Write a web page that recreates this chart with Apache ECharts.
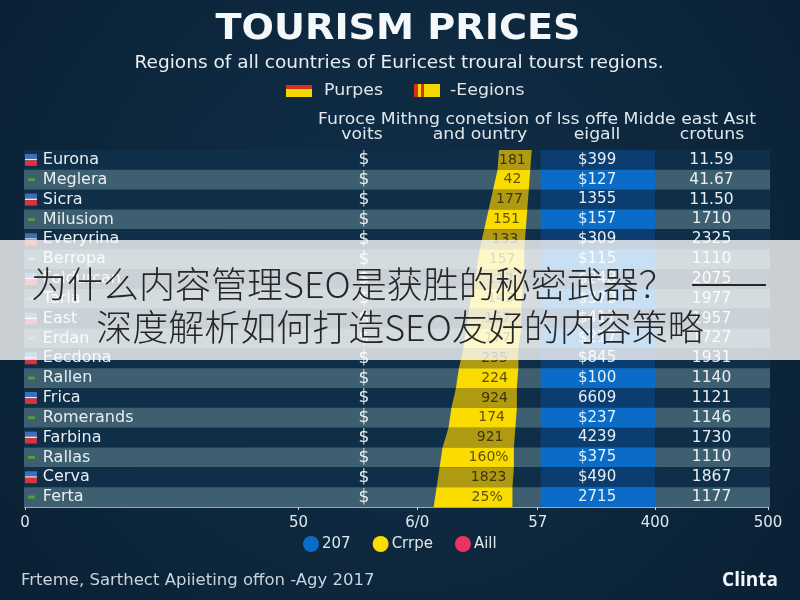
<!DOCTYPE html>
<html>
<head>
<meta charset="utf-8">
<style>html,body{margin:0;padding:0;background:#0e2840}#c{width:800px;height:600px}</style>
<script src="https://cdn.jsdelivr.net/npm/echarts@6/dist/echarts.min.js"></script>
</head>
<body>
<div id="c"></div>
<script>
// Region rows, top to bottom
const regions = ['Eurona','Meglera','Sicra','Milusiom','Everyrina','Berropa','Foldurcan','Tarla','East','Erdan','Eecdona','Rallen','Frica','Romerands','Farbina','Rallas','Cerva','Ferta'];
const euroMarks = ['$','$','$','$','$','$','$','$','$','$','$','$','$','$','$','$','$','$'];
const yellowLabels = ['181','42','177','151','133','157','112','143','167','177','235','224','924','174','921','160%','1823','25%'];
const blueLabels = ['$399','$127','1355','$157','$309','$115','$248','$370','$417','$217','$845','$100','6609','$237','4239','$375','$490','2715'];
const lastColumn = ['11.59','41.67','11.50','1710','2325','1110','2075','1977','1957','1727','1931','1140','1121','1146','1730','1110','1867','1177'];

// Edges of the yellow band at each row boundary (19 boundaries for 18 rows)
const yellowLeft = [319,318,315,312,309,306,304,301,299,297,295,292,290,287,285,281,279,277,275];
const yellowRight = [341,340,339,338,337,336,336,335,334,334,332,332,331,331,330,329,329,328,328];
// Where each yellow-band figure sits along the axis
const yellowLabelAt = [328,328,326,324,323,321,320,320,318,318,316,316,316,314,313,312,312,311];
const blueStart = 347;
const blueEnd = 424;

// Column anchors on the value axis
const iconCol = 4, nameCol = 12, markCol = 228, blueCol = 385, lastCol = 462;

// Axis ticks
const tickValues = [0,184,264,345,424,500];
const tickLabels = ['0','50','6/0','57','400','500'];

const rowDark = '#0f2e48', rowLight = '#3e5f70';
const yellowBright = '#fbdc00', yellowDim = '#b09a12';
const blueBright = '#0a6cc6', blueDim = '#0b3d70';
const textFont = '"DejaVu Sans", sans-serif';

const rowIdx = regions.map((_, i) => i);

function rowGeom(api) {
  const i = api.value(0);
  const h = api.size([0, 1])[1];
  const cy = api.coord([0, i])[1];
  return {i, h, cy, top: cy - h / 2, bottom: cy + h / 2};
}

// Alternating row stripes
function renderRows(p, api) {
  const g = rowGeom(api);
  const x0 = api.coord([0, 0])[0] - 1;
  const x1 = api.coord([500, 0])[0] + 2;
  return {type: 'rect', shape: {x: x0, y: g.top, width: x1 - x0, height: g.h},
    style: {fill: g.i % 2 ? rowLight : rowDark}};
}

// Slanted yellow band, one trapezoid per row
function renderYellow(p, api) {
  const g = rowGeom(api);
  const xa = v => api.coord([v, 0])[0];
  return {type: 'polygon', shape: {points: [
      [xa(yellowLeft[g.i]), g.top], [xa(yellowRight[g.i]), g.top],
      [xa(yellowRight[g.i + 1]), g.bottom], [xa(yellowLeft[g.i + 1]), g.bottom]]},
    style: {fill: g.i % 2 ? yellowBright : yellowDim}};
}

function renderBlue(p, api) {
  const g = rowGeom(api);
  const a = api.coord([blueStart, 0])[0], b = api.coord([blueEnd, 0])[0];
  return {type: 'rect', shape: {x: a, y: g.top, width: b - a, height: g.h},
    style: {fill: g.i % 2 ? blueBright : blueDim}};
}

// Small row markers: striped flags on dark rows, short dashes on light rows
function renderIcons(p, api) {
  const g = rowGeom(api);
  const x = api.coord([iconCol, 0])[0];
  if (g.i % 2 === 0) {
    return {type: 'group', children: [
      {type: 'rect', shape: {x: x - 6, y: g.cy - 6, width: 12, height: 5}, style: {fill: '#3d6fb5'}},
      {type: 'rect', shape: {x: x - 6, y: g.cy - 1, width: 12, height: 1.5}, style: {fill: '#e8e8f0'}},
      {type: 'rect', shape: {x: x - 6, y: g.cy + 0.5, width: 12, height: 5.5}, style: {fill: '#d8333f'}}
    ]};
  }
  return {type: 'rect', shape: {x: x - 3, y: g.cy - 1.5, width: 7, height: 3}, style: {fill: g.i === 5 ? '#4fa8d8' : '#4f9e3f'}};
}

function textCell(x, y, text, fill, size, align) {
  return {type: 'text', x, y, style: {text, fill, font: `${size}px ${textFont}`, align: align || 'center', verticalAlign: 'middle'}};
}

// All per-row text cells
function renderCells(p, api) {
  const g = rowGeom(api);
  const xa = v => api.coord([v, 0])[0];
  return {type: 'group', children: [
    textCell(xa(nameCol), g.cy, regions[g.i], '#e8eef2', 16, 'left'),
    textCell(xa(markCol), g.cy, euroMarks[g.i], '#e8eef2', 17),
    textCell(xa(yellowLabelAt[g.i]), g.cy, yellowLabels[g.i], g.i % 2 ? '#5e5208' : '#3d3508', 14),
    textCell(xa(blueCol), g.cy, blueLabels[g.i], '#e6f0f8', 15),
    textCell(xa(lastCol), g.cy, lastColumn[g.i], '#e8eef2', 15.5)
  ]};
}

const chart = echarts.init(document.getElementById('c'), null, {renderer: 'canvas'});

const headText = {fill: '#dfe7ec', font: `15px ${textFont}`, align: 'center', verticalAlign: 'middle'};

chart.setOption({
  animation: false,
  backgroundColor: {type: 'radial', x: 0.5, y: 0.45, r: 0.75, colorStops: [
    {offset: 0, color: '#11304a'}, {offset: 1, color: '#0b2236'}]},
  grid: {left: 25, top: 150, width: 743, height: 357, containLabel: false},
  xAxis: {
    type: 'value', min: 0, max: 500,
    splitLine: {show: false},
    axisLine: {show: true, onZero: false, lineStyle: {color: '#c9d4dc', width: 1.5}},
    axisTick: {show: true, length: 3, customValues: tickValues, lineStyle: {color: '#c9d4dc'}},
    axisLabel: {
      color: '#dfe7ec', fontSize: 15, fontFamily: textFont, margin: 9,
      customValues: tickValues,
      formatter: v => tickLabels[tickValues.indexOf(v)]
    }
  },
  yAxis: {type: 'category', inverse: true, data: regions, show: false},
  legend: {
    data: [{name: '207', icon: 'circle'}, {name: 'Crrpe', icon: 'circle'}, {name: 'Aill', icon: 'circle'}],
    left: 298, top: 531, itemWidth: 16, itemHeight: 16, itemGap: 22,
    textStyle: {color: '#dfe7ec', fontSize: 15, fontFamily: textFont, padding: [0, 0, 0, -2]}
  },
  series: [
    {type: 'custom', name: 'rows', data: rowIdx, encode: {y: 0}, renderItem: renderRows, z: 1, silent: true},
    {type: 'custom', name: 'Crrpe', data: rowIdx, encode: {y: 0}, renderItem: renderYellow, z: 2, itemStyle: {color: yellowBright}},
    {type: 'custom', name: '207', data: rowIdx, encode: {y: 0}, renderItem: renderBlue, z: 2, itemStyle: {color: blueBright}},
    {type: 'custom', name: 'Aill', data: [], renderItem: () => null, itemStyle: {color: '#e8345e'}},
    {type: 'custom', name: 'icons', data: rowIdx, encode: {y: 0}, renderItem: renderIcons, z: 3, silent: true},
    {type: 'custom', name: 'cells', data: rowIdx, encode: {y: 0}, renderItem: renderCells, z: 4, silent: true}
  ],
  graphic: [
    // Title block
    {type: 'text', x: 398, y: 30, scaleX: 1.06, style: {text: 'TOURISM PRICES', fill: '#f4f8fa', font: `bold 36px ${textFont}`, align: 'center', verticalAlign: 'middle'}},
    {type: 'text', x: 399, y: 64, scaleX: 1.09, style: {text: 'Regions of all countries of Euricest troural tourst regions.', fill: '#e8eef2', font: `17px ${textFont}`, align: 'center', verticalAlign: 'middle'}},

    // Top key swatches
    {type: 'rect', shape: {x: 286, y: 85, width: 26, height: 4}, style: {fill: '#d8301e'}},
    {type: 'rect', shape: {x: 286, y: 89, width: 26, height: 8}, style: {fill: '#f2d800'}},
    {type: 'rect', shape: {x: 414, y: 84, width: 26, height: 13}, style: {fill: '#f2d800'}},
    {type: 'rect', shape: {x: 414, y: 84, width: 4, height: 13}, style: {fill: '#d8301e'}},
    {type: 'rect', shape: {x: 421, y: 84, width: 3, height: 13}, style: {fill: '#d8301e'}},
    {type: 'text', x: 324, y: 91, scaleX: 1.12, style: {text: 'Purpes', fill: '#dfe7ec', font: `15.5px ${textFont}`, verticalAlign: 'middle'}},
    {type: 'text', x: 450, y: 91, scaleX: 1.12, style: {text: '-Eegions', fill: '#dfe7ec', font: `15.5px ${textFont}`, verticalAlign: 'middle'}},

    // Column headings
    {type: 'text', x: 537, y: 120, scaleX: 1.15, style: Object.assign({text: 'Furoce Mithng conetsion of lss offe Midde east Asıt'}, headText)},
    {type: 'text', x: 362, y: 135, scaleX: 1.15, style: Object.assign({text: 'voits'}, headText)},
    {type: 'text', x: 480, y: 135, scaleX: 1.15, style: Object.assign({text: 'and ountry'}, headText)},
    {type: 'text', x: 597, y: 135, scaleX: 1.15, style: Object.assign({text: 'eigall'}, headText)},
    {type: 'text', x: 712, y: 135, scaleX: 1.15, style: Object.assign({text: 'crotuns'}, headText)},

    // Footer
    {type: 'text', x: 21, y: 581, style: {text: 'Frteme, Sarthect Apiieting offon -Agy 2017', fill: '#c9d4dc', font: `16.5px ${textFont}`, verticalAlign: 'middle'}},
    {type: 'text', x: 778, y: 581, style: {text: 'Clinta', fill: '#f4f8fa', font: `bold 19px "Open Sans", sans-serif`, align: 'right', verticalAlign: 'middle'}},

    // Translucent headline strip across the middle
    {type: 'rect', zlevel: 1, shape: {x: 0, y: 240, width: 800, height: 120}, style: {fill: 'rgba(255,255,255,0.78)'}},
    {type: 'text', zlevel: 1, x: 31, y: 284, style: {text: '为什么内容管理SEO是获胜的秘密武器？', fill: '#262626', font: '300 36px "Noto Sans CJK SC"', verticalAlign: 'middle'}},
    {type: 'text', zlevel: 1, x: 690, y: 280, style: {text: '——', fill: '#262626', font: '300 47px "Noto Sans CJK SC"', verticalAlign: 'middle'}},
    {type: 'text', zlevel: 1, x: 400, y: 327, style: {text: '深度解析如何打造SEO友好的内容策略', fill: '#262626', font: '300 36px "Noto Sans CJK SC"', align: 'center', verticalAlign: 'middle'}}
  ]
});
</script>
</body>
</html>
